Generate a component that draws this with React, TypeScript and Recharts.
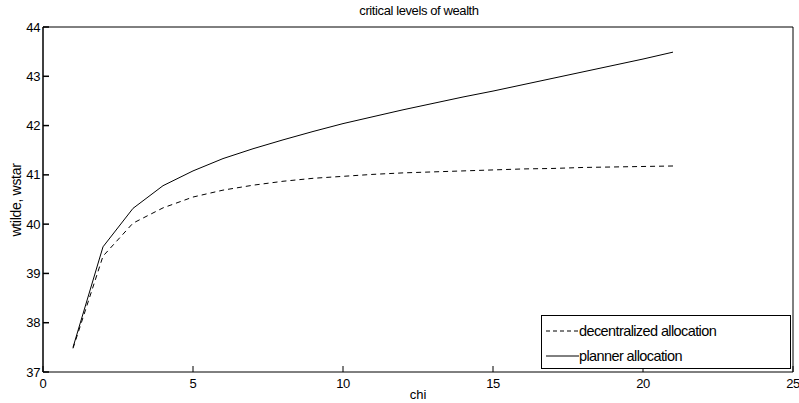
import { LineChart, Line, XAxis, YAxis, Legend } from "recharts";

const chi = [1, 2, 3, 4, 5, 6, 7, 8, 9, 10, 11, 12, 13, 14, 15, 16, 17, 18, 19, 20, 21];
const decentralized = [37.48, 39.35, 40.02, 40.33, 40.55, 40.69, 40.79, 40.87, 40.93, 40.97, 41.01, 41.04, 41.06, 41.08, 41.1, 41.12, 41.13, 41.15, 41.16, 41.17, 41.18];
const planner = [37.5, 39.54, 40.32, 40.78, 41.08, 41.33, 41.53, 41.71, 41.88, 42.04, 42.18, 42.32, 42.45, 42.58, 42.7, 42.83, 42.96, 43.09, 43.22, 43.35, 43.49];
const xTicks = [0, 5, 10, 15, 20, 25];
const yTicks = [37, 38, 39, 40, 41, 42, 43, 44];

const data = chi.map((c, i) => ({ chi: c, dec: decentralized[i], plan: planner[i] }));

const font = "'Liberation Sans', Arial, sans-serif";
const tickStyle = { fill: "#000", fontSize: 13, fontFamily: font, letterSpacing: -0.4 };

function LegendBox() {
  const rows = [
    { label: "decentralized allocation", dash: "4 3" },
    { label: "planner allocation", dash: undefined },
  ];
  return (
    <div
      style={{
        width: 250,
        height: 54,
        border: "1px solid #000",
        background: "#fff",
        boxSizing: "border-box",
        fontFamily: font,
        fontSize: 14.5,
        letterSpacing: -0.6,
        paddingTop: 4,
      }}
    >
      {rows.map(r => (
        <div key={r.label} style={{ display: "flex", alignItems: "center", height: 22, marginBottom: 3 }}>
          <svg width={33} height={10} style={{ marginLeft: 4 }}>
            <line x1={0} y1={5} x2={33} y2={5} stroke="#000" strokeWidth={1} strokeDasharray={r.dash} />
          </svg>
          <span>{r.label}</span>
        </div>
      ))}
    </div>
  );
}

export default function App() {
  return (
    <div style={{ position: "fixed", left: 0, top: 0, width: 799, height: 403, background: "#fff" }}>
      <div
        style={{
          position: "absolute",
          left: 0,
          width: 838,
          top: 3,
          textAlign: "center",
          fontFamily: font,
          fontSize: 13,
          letterSpacing: -0.4,
        }}
      >
        critical levels of wealth
      </div>
      <div
        style={{
          position: "absolute",
          left: 0,
          width: 836,
          top: 387,
          textAlign: "center",
          fontFamily: font,
          fontSize: 13,
        }}
      >
        chi
      </div>
      <div
        style={{
          position: "absolute",
          left: 16,
          top: 200,
          transform: "translate(-50%, -50%) rotate(-90deg)",
          whiteSpace: "nowrap",
          fontFamily: font,
          fontSize: 14,
          letterSpacing: -0.3,
        }}
      >
        wtilde, wstar
      </div>
      <LineChart
        width={799}
        height={403}
        data={data}
        margin={{ top: 26, right: 5, left: 0, bottom: 0 }}
        style={{ position: "absolute", left: 0, top: 0 }}
      >
        <XAxis
          dataKey="chi"
          type="number"
          domain={[0, 25]}
          ticks={xTicks}
          height={31}
          tickSize={-6}
          tickMargin={13}
          stroke="#000"
          tick={tickStyle}
          interval={0}
        />
        <XAxis
          xAxisId="top"
          orientation="top"
          type="number"
          domain={[0, 25]}
          ticks={xTicks}
          height={1}
          tickSize={-6}
          tick={false}
          stroke="#000"
          interval={0}
        />
        <YAxis
          type="number"
          domain={[37, 44]}
          ticks={yTicks}
          width={43}
          tickSize={-6}
          tickMargin={9}
          stroke="#000"
          strokeWidth={1.5}
          tick={tickStyle}
          interval={0}
        />
        <YAxis
          yAxisId="right"
          orientation="right"
          type="number"
          domain={[37, 44]}
          ticks={yTicks}
          width={1}
          tickSize={-6}
          tick={false}
          stroke="#000"
          interval={0}
        />
        <Line
          type="linear"
          dataKey="dec"
          stroke="#000"
          strokeWidth={1}
          strokeDasharray="5 4"
          dot={false}
          isAnimationActive={false}
        />
        <Line
          type="linear"
          dataKey="plan"
          stroke="#000"
          strokeWidth={1}
          dot={false}
          isAnimationActive={false}
        />
        <Legend
          layout="vertical"
          align="center"
          verticalAlign="middle"
          content={() => <LegendBox />}
          wrapperStyle={{ left: 541, top: 315, width: 250, height: 54 }}
        />
      </LineChart>
    </div>
  );
}
